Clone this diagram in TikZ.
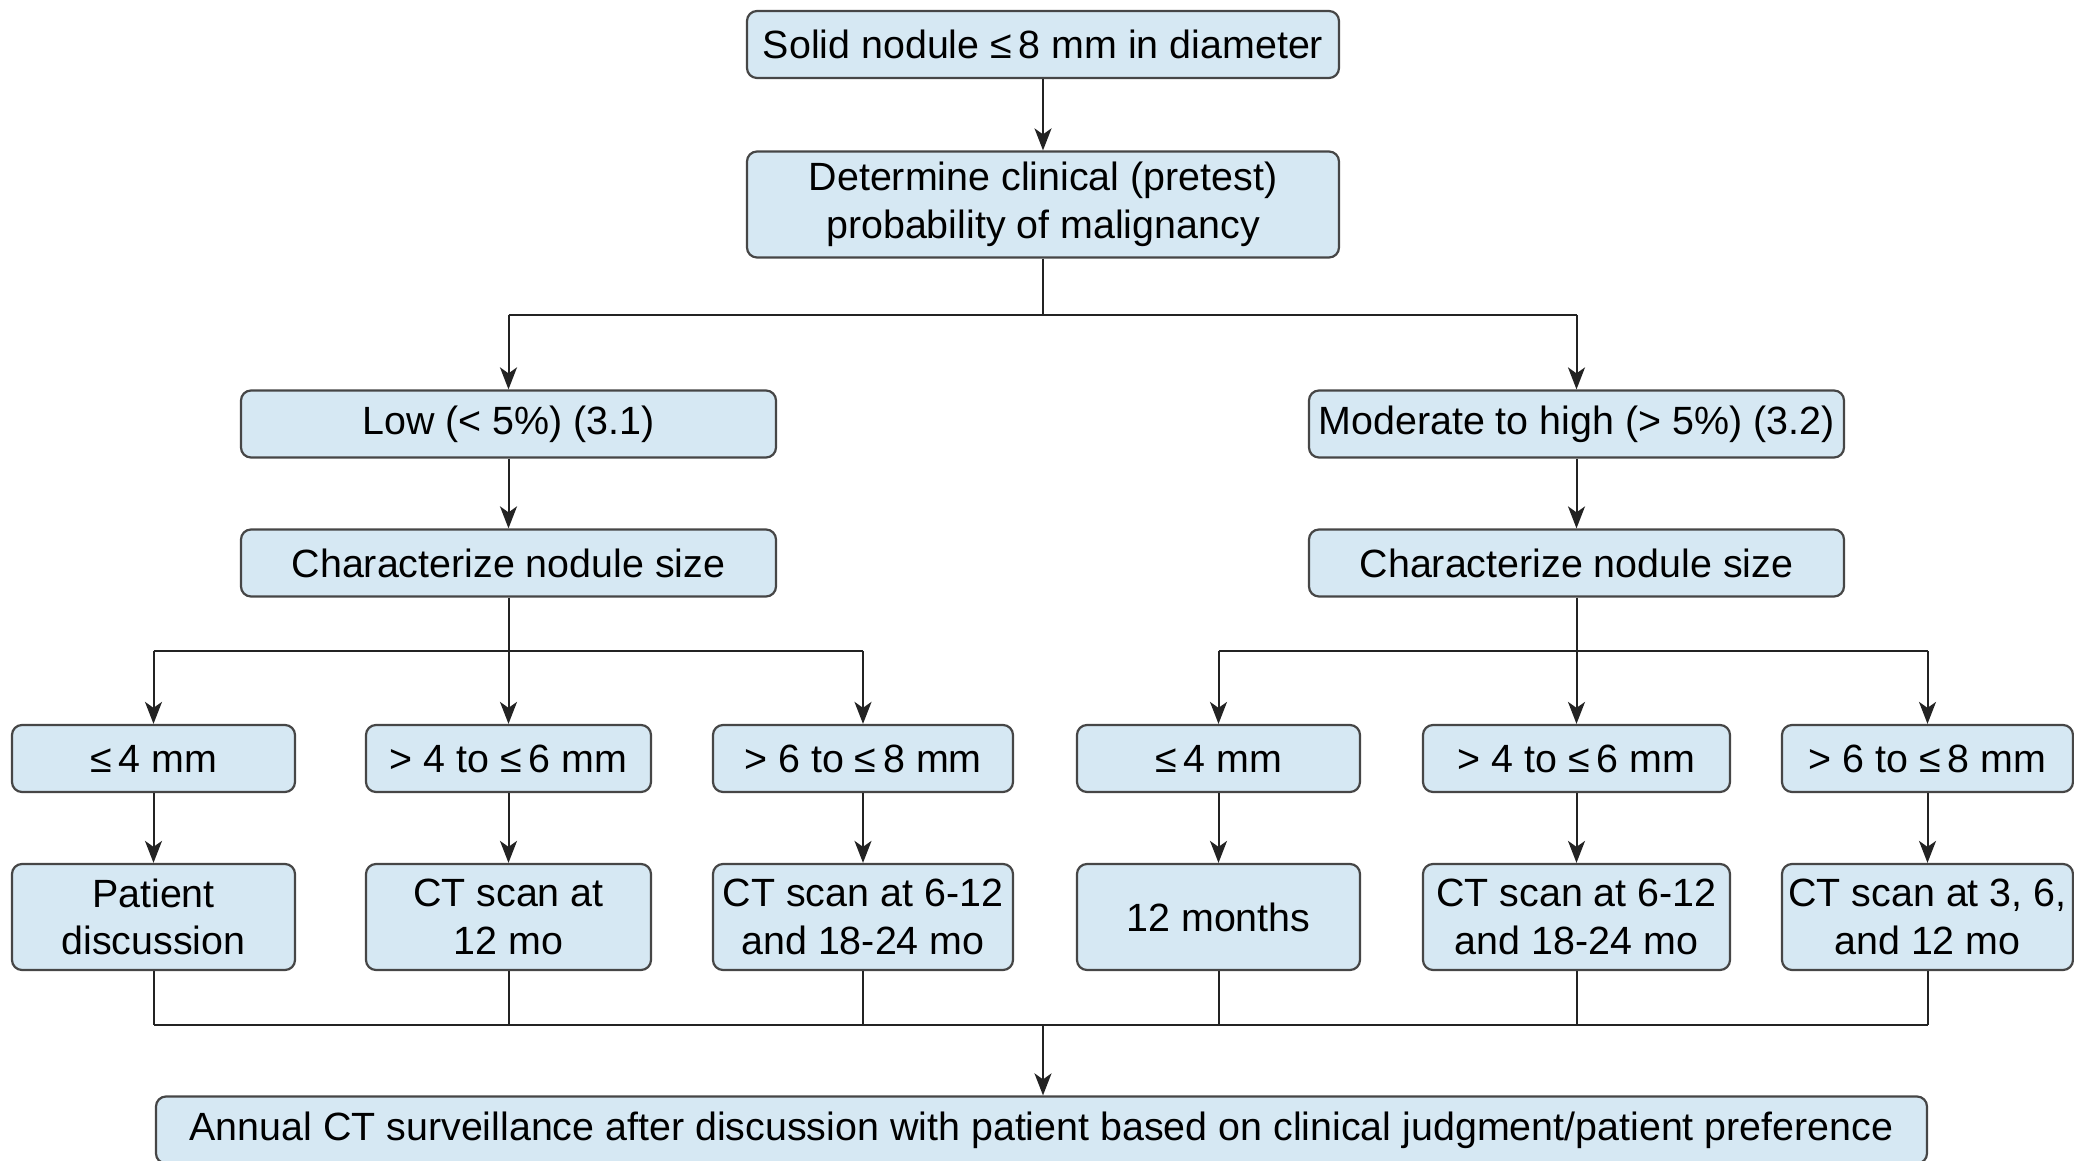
\documentclass[tikz,border=0pt]{standalone}
\usepackage{fontspec}
\setmainfont{Liberation Sans}
\usepackage{xcolor}
\usepackage{tikz}
\usetikzlibrary{arrows.meta,positioning}
\definecolor{BoxFill}{RGB}{214,232,243}
\definecolor{BoxLine}{RGB}{70,70,70}
\definecolor{LinkC}{RGB}{35,35,35}
\tikzset{
  flow/.style={rectangle,rounded corners=5pt,draw=BoxLine,line width=1.1pt,
               fill=BoxFill,align=center,inner sep=0pt,minimum height=33.5pt,
               font=\fontsize{19.7}{23.8}\selectfont},
  tall/.style={flow,minimum height=53pt},
  link/.style={line width=1pt,LinkC},
  go/.style={link,-{Stealth[length=11pt,width=8.5pt,inset=3pt]}},
}

\begin{document}
\begin{tikzpicture}[x=0.5pt,y=0.5pt]
  \useasboundingbox (0,0) rectangle (2074,1161);

  % top of the tree
  \node[flow,minimum width=296pt] (solid) at (1043,1116.5)
    {Solid nodule ≤\,8 mm in diameter};
  \node[tall,minimum width=296pt] (pretest) at (1043,956.5)
    {Determine clinical (pretest)\\probability of malignancy};
  \draw[go] (solid) -- (pretest);

  % probability split
  \node[flow,minimum width=267.5pt] (low) at (508.5,737) {Low (< 5\%) (3.1)};
  \node[flow,minimum width=267.5pt] (mod) at (1576.5,737) {Moderate to high (> 5\%) (3.2)};
  \coordinate (jT) at (1043,846);
  \draw[link] (pretest) -- (jT);
  \draw[link] (low.north |- jT) -- (mod.north |- jT);
  \draw[go] (low.north |- jT) -- (low);
  \draw[go] (mod.north |- jT) -- (mod);

  \node[flow,minimum width=267.5pt] (sizeL) at (508.5,598) {Characterize nodule size};
  \node[flow,minimum width=267.5pt] (sizeR) at (1576.5,598) {Characterize nodule size};
  \draw[go] (low) -- (sizeL);
  \draw[go] (mod) -- (sizeR);

  % size classes and follow-up
  \foreach \n/\x/\w/\s/\r in {
      a/153.5/141.5/{≤\,4 mm}/{Patient\\discussion},
      b/508.5/142.5/{> 4 to ≤\,6 mm}/{CT scan at\\12 mo},
      c/863/150/{> 6 to ≤\,8 mm}/{CT scan at 6-12\\and 18-24 mo},
      d/1218.5/141.5/{≤\,4 mm}/{12 months},
      e/1576.5/153.5/{> 4 to ≤\,6 mm}/{CT scan at 6-12\\and 18-24 mo},
      f/1927.5/145.5/{> 6 to ≤\,8 mm}/{CT scan at 3, 6,\\and 12 mo}}
  {
    \node[flow,minimum width=\w pt] (s\n) at (\x,402.5) {\s};
    \node[tall,minimum width=\w pt] (r\n) at (\x,244) {\r};
    \draw[go] (s\n) -- (r\n);
  }

  \coordinate (jL) at (508.5,510);
  \coordinate (jR) at (1576.5,510);
  \draw[link] (sizeL) -- (jL);
  \draw[link] (sizeR) -- (jR);
  \draw[link] (sa.north |- jL) -- (sc.north |- jL);
  \draw[link] (sd.north |- jR) -- (sf.north |- jR);
  \foreach \n in {a,b,c,d,e,f}
    \draw[go] (s\n.north |- jL) -- (s\n);

  % merge into the last step
  \node[flow,minimum width=885.5pt] (annual) at (1041.5,31)
    {Annual CT surveillance after discussion with patient based on clinical judgment/patient preference};
  \coordinate (jB) at (1043,136);
  \draw[link] (ra.south |- jB) -- (rf.south |- jB);
  \foreach \n in {a,b,c,d,e,f}
    \draw[link] (r\n) -- (r\n.south |- jB);
  \draw[go] (jB) -- (jB |- annual.north);
\end{tikzpicture}
\end{document}
